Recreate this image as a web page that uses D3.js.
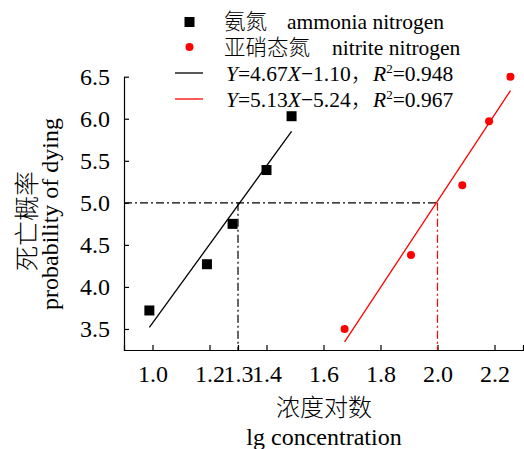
<!DOCTYPE html>
<html>
<head>
<meta charset="utf-8">
<script src="https://cdn.jsdelivr.net/npm/d3@7"></script>
<style>
  body { margin: 0; background: #fff; }
  text { font-family: "Liberation Serif", "Times New Roman", serif; }
  .cjk { font-family: "Noto Sans CJK SC", sans-serif; font-weight: 300; }
</style>
</head>
<body>
<div id="chart"></div>
<script>
// ammonia nitrogen (black squares)
var ammoniaX = [0.989, 1.191, 1.281, 1.400, 1.488];
var ammoniaY = [3.72, 4.27, 4.75, 5.39, 6.03];
// nitrite nitrogen (red dots)
var nitriteX = [1.674, 1.907, 2.087, 2.181, 2.256];
var nitriteY = [3.50, 4.38, 5.21, 5.97, 6.50];
// fitted lines  Y = a X + b
var fitSlope = [4.67, 5.13];
var fitIntercept = [-1.10, -5.24];
var fitR2 = ["0.948", "0.967"];
// reference (dash-dot) lines
var refY = 5.0;
var refX = [1.3, 2.0];

var xTicks = [1.0, 1.2, 1.3, 1.4, 1.6, 1.8, 2.0, 2.2];
var yTicks = [3.5, 4.0, 4.5, 5.0, 5.5, 6.0, 6.5];

(function() {
  var width = 524,
      height = 449;
  var mLeft = 124, mTop = 76.7, mBottom = 350;

  var svg = d3.select('#chart')
    .append('svg')
      .attr('width', width)
      .attr('height', height)
      .style('background', '#fff');

  var x = d3.scaleLinear().domain([0.9, 2.3]).range([mLeft, mLeft + 1.4 * 285]);
  var y = d3.scaleLinear().domain([3.25, 6.5]).range([mBottom, mTop]);

  // axes
  var xAxis = d3.axisBottom(x)
    .tickValues(xTicks)
    .tickFormat(d3.format('.1f'))
    .tickSizeInner(-5)
    .tickSizeOuter(-5)
    .tickPadding(15);
  var yAxis = d3.axisLeft(y)
    .tickValues(yTicks)
    .tickFormat(d3.format('.1f'))
    .tickSizeInner(-5)
    .tickSizeOuter(0)
    .tickPadding(14);

  function styleAxis(g) {
    g.selectAll('text').attr('font-size', 24).attr('font-family', '"Liberation Serif", serif').attr('fill', '#000');
    g.selectAll('line, path').attr('stroke', '#000').attr('stroke-width', 1.2);
  }

  svg.append('g')
    .attr('transform', 'translate(0,' + mBottom + ')')
    .call(xAxis)
    .call(styleAxis);

  svg.append('g')
    .attr('transform', 'translate(' + mLeft + ',0)')
    .call(yAxis)
    .call(styleAxis);

  // dash-dot reference lines
  var dashDot = '8,3,2,3';
  var colors = ['#000', '#ff0000'];
  svg.append('line')
    .attr('x1', x(0.9)).attr('x2', x(refX[1]))
    .attr('y1', y(refY)).attr('y2', y(refY))
    .attr('stroke', '#000').attr('stroke-width', 1.2)
    .attr('stroke-dasharray', dashDot);
  refX.forEach(function(v, i) {
    svg.append('line')
      .attr('x1', x(v)).attr('x2', x(v))
      .attr('y1', y(refY)).attr('y2', mBottom)
      .attr('stroke', colors[i]).attr('stroke-width', 1.2)
      .attr('stroke-dasharray', dashDot);
  });

  // fitted lines across each series range
  [ammoniaX, nitriteX].forEach(function(xs, i) {
    var x0 = d3.min(xs), x1 = d3.max(xs);
    svg.append('line')
      .attr('x1', x(x0)).attr('y1', y(fitSlope[i] * x0 + fitIntercept[i]))
      .attr('x2', x(x1)).attr('y2', y(fitSlope[i] * x1 + fitIntercept[i]))
      .attr('stroke', colors[i]).attr('stroke-width', 1.3);
  });

  // points
  svg.selectAll('rect.pt')
    .data(d3.zip(ammoniaX, ammoniaY))
    .enter()
    .append('rect')
      .attr('class', 'pt')
      .attr('x', function(d) { return x(d[0]) - 5; })
      .attr('y', function(d) { return y(d[1]) - 5; })
      .attr('width', 10).attr('height', 10)
      .attr('fill', '#000');

  svg.selectAll('circle.pt')
    .data(d3.zip(nitriteX, nitriteY))
    .enter()
    .append('circle')
      .attr('class', 'pt')
      .attr('cx', function(d) { return x(d[0]); })
      .attr('cy', function(d) { return y(d[1]); })
      .attr('r', 4)
      .attr('fill', '#ff0000');

  // legend
  var lg = svg.append('g').attr('font-size', 21.5);
  lg.append('rect').attr('x', 184.5).attr('y', 17).attr('width', 10).attr('height', 10).attr('fill', '#000');
  lg.append('text').attr('class', 'cjk').attr('x', 224).attr('y', 29).text('氨氮');
  lg.append('text').attr('x', 287).attr('y', 29).text('ammonia nitrogen');

  lg.append('circle').attr('cx', 189.5).attr('cy', 47).attr('r', 4).attr('fill', '#ff0000');
  lg.append('text').attr('class', 'cjk').attr('x', 224).attr('y', 55).text('亚硝态氮');
  lg.append('text').attr('x', 332).attr('y', 55).text('nitrite nitrogen');

  [0, 1].forEach(function(i) {
    var yy = 81 + i * 26;
    lg.append('line').attr('x1', 175).attr('x2', 203).attr('y1', yy - 8).attr('y2', yy - 8)
      .attr('stroke', colors[i]).attr('stroke-width', 1.3);
    var t = lg.append('text').attr('x', 226).attr('y', yy);
    t.append('tspan').attr('font-style', 'italic').text('Y');
    t.append('tspan').text('=' + fitSlope[i].toFixed(2));
    t.append('tspan').attr('font-style', 'italic').text('X');
    t.append('tspan').text('\u2212' + Math.abs(fitIntercept[i]).toFixed(2));
    t.append('tspan').attr('class', 'cjk').text('，');
    var r = lg.append('text').attr('x', 373).attr('y', yy);
    r.append('tspan').attr('font-style', 'italic').text('R');
    r.append('tspan').attr('font-size', 13).attr('dy', -8).text('2');
    r.append('tspan').attr('dy', 8).text('=' + fitR2[i]);
  });

  // axis titles
  var cx = (mLeft + 524) / 2;
  svg.append('text').attr('class', 'cjk').attr('x', cx).attr('y', 416)
    .attr('text-anchor', 'middle').attr('font-size', 24).text('浓度对数');
  svg.append('text').attr('x', cx).attr('y', 445)
    .attr('text-anchor', 'middle').attr('font-size', 24).text('lg concentration');

  svg.append('text').attr('class', 'cjk')
    .attr('transform', 'translate(36,221) rotate(-90)')
    .attr('text-anchor', 'middle').attr('font-size', 25).text('死亡概率');
  svg.append('text')
    .attr('transform', 'translate(58,214) rotate(-90)')
    .attr('text-anchor', 'middle').attr('font-size', 24).text('probability of dying');
})();
</script>
</body>
</html>
